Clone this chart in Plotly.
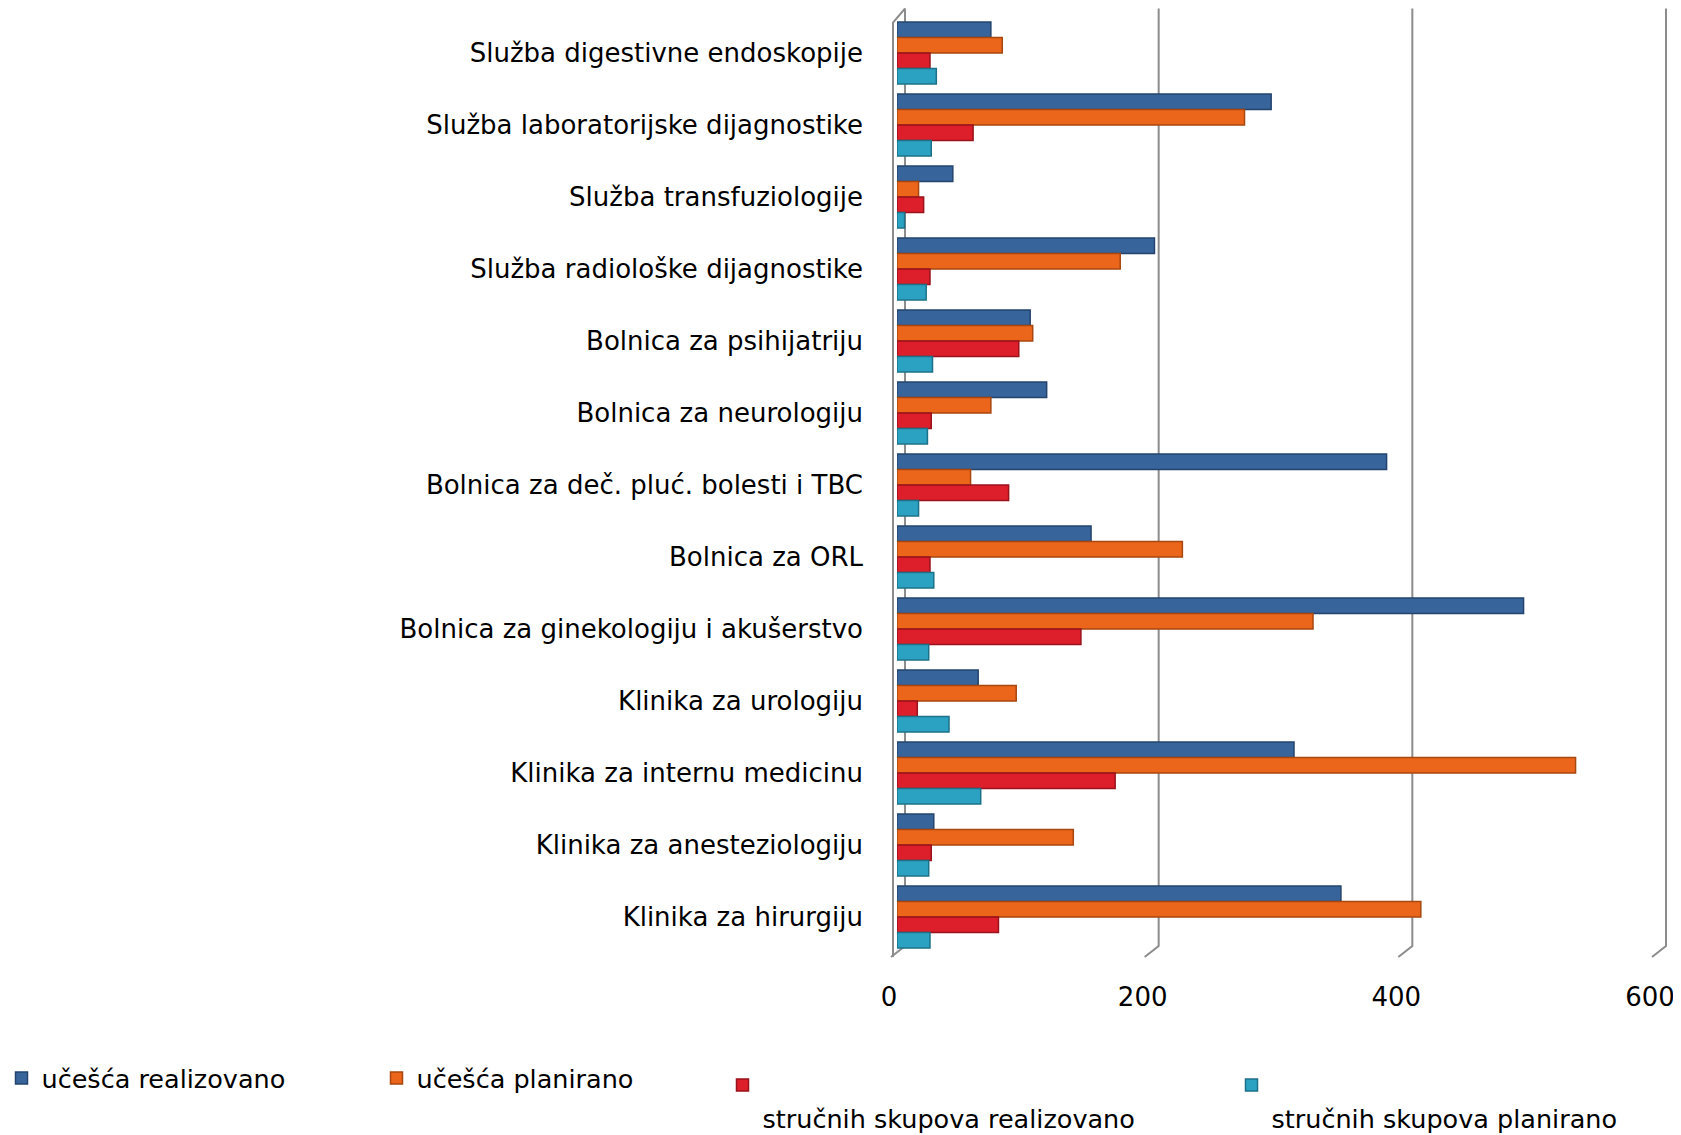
import plotly.graph_objects as go

categories = [
    "Služba digestivne endoskopije",
    "Služba laboratorijske dijagnostike",
    "Služba transfuziologije",
    "Služba radiološke dijagnostike",
    "Bolnica za psihijatriju",
    "Bolnica za neurologiju",
    "Bolnica za deč. pluć. bolesti i TBC",
    "Bolnica za ORL",
    "Bolnica za ginekologiju i akušerstvo",
    "Klinika za urologiju",
    "Klinika za internu medicinu",
    "Klinika za anesteziologiju",
    "Klinika za hirurgiju",
]

ucesca_realizovano = [74, 295, 44, 203, 105, 118, 386, 153, 494, 64, 313, 29, 350]
ucesca_planirano = [83, 274, 17, 176, 107, 74, 58, 225, 328, 94, 535, 139, 413]
skupova_realizovano = [26, 60, 21, 26, 96, 27, 88, 26, 145, 16, 172, 27, 80]
skupova_planirano = [31, 27, 6, 23, 28, 24, 17, 29, 25, 41, 66, 25, 26]

series_names = [
    "učešća realizovano",
    "učešća planirano",
    "<br>stručnih skupova realizovano",
    "<br>stručnih skupova planirano",
]
series_values = [ucesca_realizovano, ucesca_planirano, skupova_realizovano, skupova_planirano]
colors = ["#37649B", "#EB661B", "#DC1F2B", "#2CA2C3"]
edge_colors = ["#24446E", "#A8470F", "#9A121B", "#1C7189"]
legend_ids = ["legend", "legend2", "legend3", "legend4"]

x_range = [0, 600]
x_ticks = [0, 200, 400, 600]

FONT = "DejaVu Sans"
W, H = 1673, 1127          # page body adds an 8px offset
ML, MR, MT, MB = 889, 23, 8.5, 182
PW = W - ML - MR
PH = H - MT - MB


def px_to_paper_x(fx):
    return (fx - ML) / PW


def px_to_paper_y(fy):
    return (H - MB - fy) / PH


def axis_fraction(v):
    return (v - x_range[0]) / (x_range[1] - x_range[0])


fig = go.Figure()
for name, vals, c, ec, lg in zip(series_names, series_values, colors, edge_colors, legend_ids):
    fig.add_trace(go.Bar(
        y=categories, x=vals, orientation="h", name=name,
        marker=dict(color=c, line=dict(color=ec, width=1.5)),
        legend=lg,
    ))

# 3D-style back-wall gridlines (anchored at the axis tick values, offset in pixels)
top_y = px_to_paper_y(0)
back_bottom_y = px_to_paper_y(938)
front_bottom_y = px_to_paper_y(949)
wall_top_y = px_to_paper_y(14)
GRID = "#8C8C8C"
for t in x_ticks:
    fig.add_shape(
        type="path", xref="x domain", yref="paper", xsizemode="pixel",
        xanchor=axis_fraction(t),
        path=f"M 8,{top_y} L 8,{back_bottom_y} L -6,{front_bottom_y}",
        line=dict(color=GRID, width=2), layer="below",
    )
fig.add_shape(
    type="path", xref="x domain", yref="paper", xsizemode="pixel",
    xanchor=axis_fraction(x_ticks[0]),
    path=f"M -4,{front_bottom_y} L -4,{wall_top_y} L 8,{top_y}",
    line=dict(color=GRID, width=2), layer="below",
)

legend_common = dict(
    xref="paper", yref="paper", xanchor="left", yanchor="top",
    font=dict(family=FONT, size=25.5, color="#000000"),
    bgcolor="rgba(0,0,0,0)", valign="top",
)

fig.update_layout(
    width=W, height=H,
    paper_bgcolor="white", plot_bgcolor="white",
    margin=dict(l=ML, r=MR, t=MT, b=MB, autoexpand=False),
    barmode="group", bargap=0.14, bargroupgap=0,
    font=dict(family=FONT, size=26, color="#000000"),
    showlegend=True,
    legend=dict(x=px_to_paper_x(-6.5), y=px_to_paper_y(1047), **legend_common),
    legend2=dict(x=px_to_paper_x(368.5), y=px_to_paper_y(1047), **legend_common),
    legend3=dict(x=px_to_paper_x(714.5), y=px_to_paper_y(1054), **legend_common),
    legend4=dict(x=px_to_paper_x(1223.5), y=px_to_paper_y(1054), **legend_common),
    xaxis=dict(
        range=x_range, tickvals=x_ticks, ticktext=[str(v) for v in x_ticks],
        showgrid=False, zeroline=False,
        showline=False, ticks="", ticklabelstandoff=26, ticklabelshift=-8,
        tickfont=dict(family=FONT, size=26, color="#000000"),
    ),
    yaxis=dict(
        autorange="reversed", showgrid=False, zeroline=False,
        showline=False, ticks="", ticklabelstandoff=33,
        tickfont=dict(family=FONT, size=26, color="#000000"),
    ),
)

fig.write_html("out.html")
